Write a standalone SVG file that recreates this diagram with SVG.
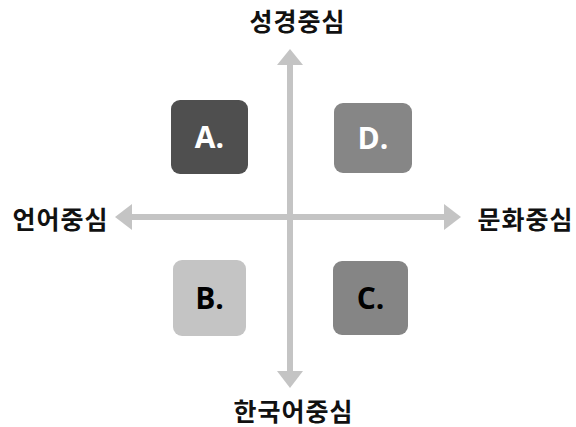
<svg xmlns="http://www.w3.org/2000/svg" width="576" height="427" viewBox="0 0 576 427">
<defs>
<style>
.axis{stroke:#c4c4c4;stroke-width:6;fill:none}
.head{fill:#c4c4c4}
.lbl{font-family:"Noto Sans CJK KR","Noto Sans",sans-serif;font-weight:bold;font-size:25px;fill:#111;text-anchor:middle;letter-spacing:1px}
.box{stroke:none}
.bt{font-family:"Open Sans","Noto Sans",sans-serif;font-weight:bold;font-size:30px;text-anchor:middle}
</style>
</defs>
<rect width="576" height="427" fill="#ffffff"/>
<g id="connectors">
<line class="axis" x1="290" y1="62" x2="290" y2="374"/>
<line class="axis" x1="130" y1="217" x2="446" y2="217"/>
<polygon class="head" points="290,49 277,65 303,65"/>
<polygon class="head" points="290,388 277,371 303,371"/>
<polygon class="head" points="115,217 132,204 132,230"/>
<polygon class="head" points="461,217 444,204 444,230"/>
</g>
<g id="label-top"><text class="lbl" x="297.5" y="31">성경중심</text></g>
<g id="label-bottom"><text class="lbl" x="293.5" y="421">한국어중심</text></g>
<g id="label-left"><text class="lbl" x="60.5" y="229">언어중심</text></g>
<g id="label-right"><text class="lbl" x="525.5" y="229">문화중심</text></g>
<g id="node-A"><rect class="box" x="171" y="100" width="77" height="74" rx="9" fill="#4f4f4f"/><text class="bt" x="209.5" y="148" fill="#ffffff">A.</text></g>
<g id="node-D"><rect class="box" x="334" y="103" width="78" height="70" rx="9" fill="#868686"/><text class="bt" x="373" y="149" fill="#ffffff">D.</text></g>
<g id="node-B"><rect class="box" x="173" y="260" width="73" height="76" rx="9" fill="#c4c4c4"/><text class="bt" x="209.5" y="309" fill="#000000">B.</text></g>
<g id="node-C"><rect class="box" x="333" y="261" width="75" height="74" rx="9" fill="#858585"/><text class="bt" x="370.5" y="309" fill="#000000">C.</text></g>
</svg>
